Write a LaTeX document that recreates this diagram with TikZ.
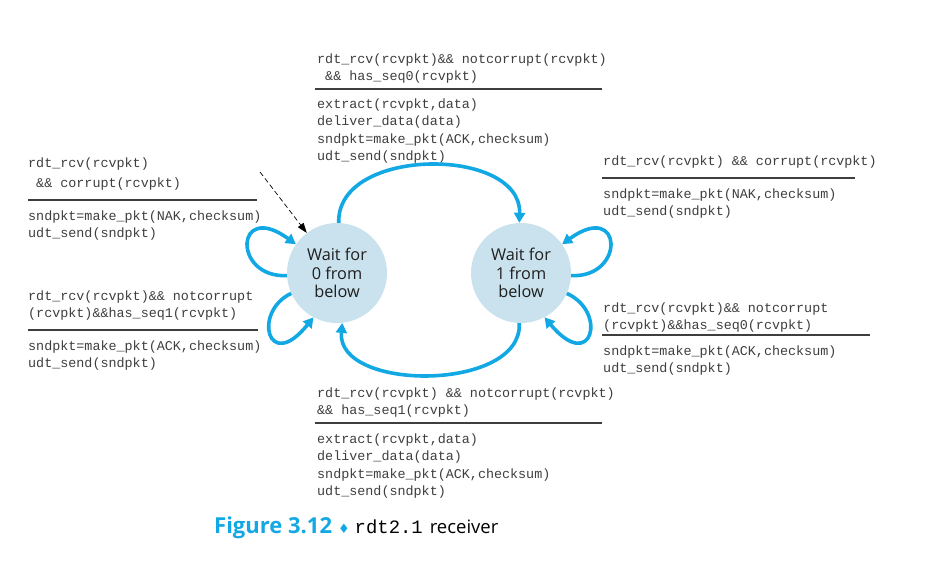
\documentclass[tikz,border=0pt]{standalone}
\usepackage{fontspec}
\setmainfont{Open Sans}
\setmonofont{Liberation Mono}
\newfontfamily\symfont{DejaVu Sans}
\usetikzlibrary{arrows.meta}
\definecolor{fsmblue}{RGB}{18,168,228}
\definecolor{statefill}{RGB}{201,226,238}
\definecolor{codegray}{RGB}{62,62,62}
\begin{document}
\begin{tikzpicture}[x=1pt,y=-1pt,
  state/.style={circle,fill=statefill,minimum size=100pt,inner sep=0pt,align=center,
    font=\fontsize{16.3}{18.7}\selectfont,text=black!88},
  % the base anchor of a multi-line node sits on its last line
  code/.style={anchor=base west,align=left,inner sep=0pt,
    font=\ttfamily\fontsize{13.4}{17.5}\selectfont,text=codegray},
  bar/.style={codegray,line width=1.1pt},
  trans/.style={fsmblue,line width=3.6pt,-{Triangle[length=10pt,width=11pt]}},
  initarrow/.style={black,dash pattern=on 5pt off 3pt,line width=0.7pt,-{Triangle[length=10pt,width=7pt]}}]
\useasboundingbox (0,0) rectangle (933,565);

% states
\node[state] (L) at (337,273) {Wait for\\0 from\\below};
\node[state] (R) at (521,273) {Wait for\\1 from\\below};

% transition from state 0 to state 1 (top)
\node[code,font=\ttfamily\fontsize{13.4}{16.5}\selectfont] (c1) at (317,80) {rdt\_rcv(rcvpkt)\&\& notcorrupt(rcvpkt)\\\hphantom{r}\&\& has\_seq0(rcvpkt)};
\draw[bar] (315,89) -- (602,89);
\node[code] (a1) at (317,160.5) {extract(rcvpkt,data)\\deliver\_data(data)\\sndpkt=make\_pkt(ACK,checksum)\\udt\_send(sndpkt)};

% self loop on state 0: corrupt packet
\node[code] (c2) at (28,187) {rdt\_rcv(rcvpkt)\\[2.5pt]\hphantom{r}\&\& corrupt(rcvpkt)};
\draw[bar] (28,200) -- (257,200);
\node[code] (a2) at (28,237.5) {sndpkt=make\_pkt(NAK,checksum)\\udt\_send(sndpkt)};

% self loop on state 0: duplicate seq1 packet
\node[code] (c3) at (28,317.5) {rdt\_rcv(rcvpkt)\&\& notcorrupt\\(rcvpkt)\&\&has\_seq1(rcvpkt)};
\draw[bar] (28,330) -- (258,330);
\node[code] (a3) at (28,367.5) {sndpkt=make\_pkt(ACK,checksum)\\udt\_send(sndpkt)};

% self loop on state 1: corrupt packet
\node[code] (c4) at (603,165) {rdt\_rcv(rcvpkt) \&\& corrupt(rcvpkt)};
\draw[bar] (602,178) -- (855,178);
\node[code] (a4) at (603,215.5) {sndpkt=make\_pkt(NAK,checksum)\\udt\_send(sndpkt)};

% self loop on state 1: duplicate seq0 packet
\node[code] (c5) at (603,329.5) {rdt\_rcv(rcvpkt)\&\& notcorrupt\\(rcvpkt)\&\&has\_seq0(rcvpkt)};
\draw[bar] (602,335) -- (870,335);
\node[code] (a5) at (603,372.5) {sndpkt=make\_pkt(ACK,checksum)\\udt\_send(sndpkt)};

% transition from state 1 to state 0 (bottom)
\node[code] (c6) at (317,414.5) {rdt\_rcv(rcvpkt) \&\& notcorrupt(rcvpkt)\\\&\& has\_seq1(rcvpkt)};
\draw[bar] (315,423) -- (602,423);
\node[code] (a6) at (317,495.5) {extract(rcvpkt,data)\\deliver\_data(data)\\sndpkt=make\_pkt(ACK,checksum)\\udt\_send(sndpkt)};

% transitions
\draw[trans] (L.88) .. controls (336,146) and (522,146) .. (R.92);
\draw[trans] (R.268) .. controls (523,392) and (336,392) .. (L.276);
\draw[trans] (L.183) .. controls (232,278) and (235,200) .. (L.145);
\draw[trans] (L.204) .. controls (252,312) and (268,374) .. (L.242);
\draw[trans] (R.-3) .. controls (626,278) and (623,200) .. (R.35);
\draw[trans] (R.-24) .. controls (608,312) and (592,374) .. (R.-62);

% initial state marker
\coordinate (init) at (260,172);
\draw[initarrow] (init) -- (L.127);

% caption
\node[anchor=base west,inner sep=0pt,font=\fontsize{22}{24}\selectfont] (cap) at (214,533)
  {{\bfseries\color{fsmblue}Figure 3.12}\hspace{6pt}{\symfont\fontsize{13}{15}\selectfont\color{fsmblue}♦}\hspace{5pt}{\ttfamily\fontsize{18.9}{22}\selectfont rdt2.1}\hspace{7pt}{\fontsize{18.5}{22}\selectfont receiver}};
\end{tikzpicture}
\end{document}
